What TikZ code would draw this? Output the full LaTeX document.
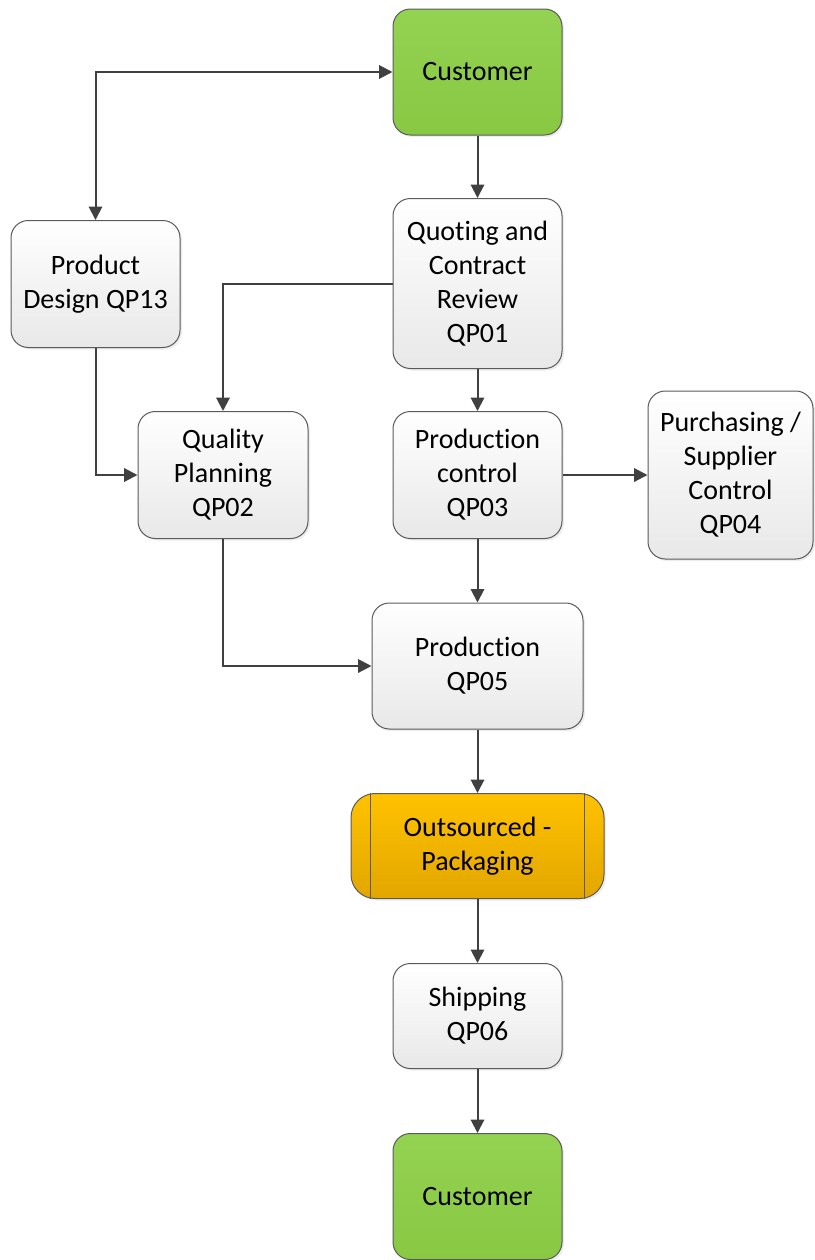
\documentclass[tikz,border=0pt]{standalone}
\usepackage{fontspec}
\setmainfont{Carlito}[Ligatures=NoCommon, RawFeature={-liga;-clig;-calt;-dlig}]
\usetikzlibrary{arrows.meta,shadows}

\definecolor{boxline}{RGB}{90,90,90}
\definecolor{arrowgray}{RGB}{64,64,64}
\definecolor{greentop}{RGB}{148,210,82}
\definecolor{greenbot}{RGB}{136,200,66}
\definecolor{orangetop}{RGB}{255,194,0}
\definecolor{orangebot}{RGB}{226,166,0}

\tikzset{
  proc/.style={draw=boxline, line width=0.75pt, rounded corners=13pt, align=center,
    top color=white, bottom color=black!9, font=\fontsize{21pt}{25.5pt}\selectfont,
    drop shadow={opacity=0.15, shadow xshift=1.5pt, shadow yshift=-1.5pt}},
  cust/.style={proc, top color=greentop, bottom color=greenbot},
  outs/.style={proc, rounded corners=18pt, top color=orangetop, bottom color=orangebot},
  flow/.style={draw=arrowgray, line width=1.5pt, -{Triangle[length=10pt, width=10pt]}}
}

\begin{document}
\begin{tikzpicture}[x=0.75pt, y=-0.75pt]
  \useasboundingbox (0,0) rectangle (814,1260);
  \node[cust, minimum width=126.75pt, minimum height=94.5pt] (cust1) at (477.5,72) {Customer};
  \node[proc, minimum width=126.75pt, minimum height=127.5pt] (qp01) at (477.5,283.5) {Quoting and\\Contract\\Review\\QP01};
  \node[proc, minimum width=126.75pt, minimum height=95.25pt] (qp13) at (95.5,284) {Product\\Design QP13};
  \node[proc, minimum width=127.5pt, minimum height=95.25pt] (qp02) at (223,475) {Quality\\Planning\\QP02};
  \node[proc, minimum width=126.75pt, minimum height=95.25pt] (qp03) at (477.5,475) {Production\\control\\QP03};
  \node[proc, minimum width=123.75pt, minimum height=126pt] (qp04) at (730.5,475) {Purchasing /\\Supplier\\Control\\QP04};
  \node[proc, minimum width=158.25pt, minimum height=94.5pt] (qp05) at (477.5,666) {Production\\QP05};
  \node[outs, minimum width=189.75pt, minimum height=78.75pt] (pack) at (477.5,846) {Outsourced -\\Packaging};
  \node[proc, minimum width=126.75pt, minimum height=78.75pt] (qp06) at (477.5,1016) {Shipping\\QP06};
  \node[cust, minimum width=126.75pt, minimum height=94.5pt] (cust2) at (477.5,1196.5) {Customer};
  % inner bars of the packaging box
  \draw[boxline, line width=0.75pt] ([xshift=15pt]pack.north west) -- ([xshift=15pt]pack.south west);
  \draw[boxline, line width=0.75pt] ([xshift=-15pt]pack.north east) -- ([xshift=-15pt]pack.south east);
  % Draw the flow
  \draw[flow, {Triangle[length=10pt, width=10pt]}-{Triangle[length=10pt, width=10pt]}] (qp13.north) |- (cust1.west);
  \draw[flow] (cust1) -- (qp01);
  \draw[flow] (qp01.west) -| (qp02.north);
  \draw[flow] (qp01) -- (qp03);
  \draw[flow] (qp13.south) |- (qp02.west);
  \draw[flow] (qp03.east) -- (qp04.west);
  \draw[flow] (qp03) -- (qp05);
  \draw[flow] (qp02.south) |- (qp05.west);
  \draw[flow] (qp05) -- (pack);
  \draw[flow] (pack) -- (qp06);
  \draw[flow] (qp06) -- (cust2);
\end{tikzpicture}
\end{document}
